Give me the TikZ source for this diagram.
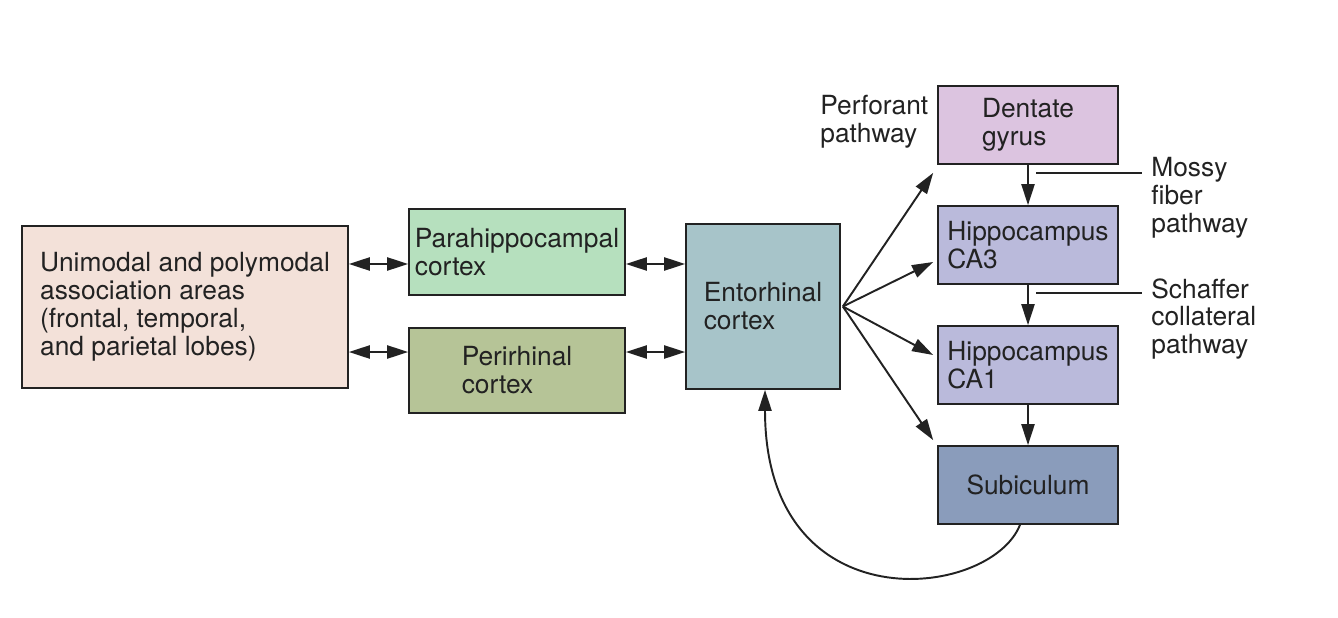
\documentclass[tikz,border=0pt]{standalone}
\usepackage{fontspec}
\setmainfont{TeX Gyre Heros}
\usepackage{xcolor}
\usepackage{tikz}
\usetikzlibrary{arrows.meta,positioning}

\definecolor{assocfill}{HTML}{F3E1D9}
\definecolor{parafill}{HTML}{B6E0BE}
\definecolor{perifill}{HTML}{B6C497}
\definecolor{entofill}{HTML}{A7C4C9}
\definecolor{dentfill}{HTML}{DCC4E0}
\definecolor{hippfill}{HTML}{BABADB}
\definecolor{subifill}{HTML}{8A9CBB}
\definecolor{ink}{HTML}{222222}

\tikzset{
  area/.style={draw=ink, line width=1pt, align=left, inner sep=0pt, text=ink,
    font=\fontsize{15}{15.9}\selectfont},
  tag/.style={align=left, inner sep=0pt, text=ink, font=\fontsize{15}{15.9}\selectfont},
  link/.style={line width=1.1pt, draw=ink, -{Triangle[length=12pt,width=7.5pt]}},
  twoway/.style={line width=1.1pt, draw=ink,
    {Triangle[length=12pt,width=7.5pt]}-{Triangle[length=12pt,width=7.5pt]}},
}

\begin{document}
\begin{tikzpicture}[x=0.02cm,y=-0.02cm]
\useasboundingbox (0,0) rectangle (1338,618);

%Cortical areas
\node[area, fill=assocfill, minimum width=6.52cm, minimum height=3.24cm] (assoc) at (185,307)
  {Unimodal and polymodal\\association areas\\(frontal, temporal,\\and parietal lobes)};
\node[area, fill=parafill, minimum width=4.32cm, minimum height=1.72cm] (para) at (517,252)
  {Parahippocampal\\cortex};
\node[area, fill=perifill, minimum width=4.32cm, minimum height=1.70cm] (peri) at (517,370.5)
  {Perirhinal\\cortex};
\node[area, fill=entofill, minimum width=3.08cm, minimum height=3.30cm] (ento) at (763,306.5)
  {Entorhinal\\cortex};

%Hippocampal formation
\node[area, fill=dentfill, minimum width=3.60cm, minimum height=1.56cm] (dentate) at (1028,125)
  {Dentate\\gyrus};
\node[area, fill=hippfill, minimum width=3.60cm, minimum height=1.56cm] (ca3) at (1028,245)
  {Hippocampus\\CA3};
\node[area, fill=hippfill, minimum width=3.60cm, minimum height=1.56cm] (ca1) at (1028,365)
  {Hippocampus\\CA1};
\node[area, fill=subifill, minimum width=3.60cm, minimum height=1.56cm] (subic) at (1028,485)
  {Subiculum};

%Pathway labels
\node[tag, anchor=west] (perforant) at (820,122) {Perforant\\pathway};
\node[tag, anchor=west] (mossy) at (1151,198) {Mossy\\fiber\\pathway};
\node[tag, anchor=west] (schaffer) at (1151,319) {Schaffer\\collateral\\pathway};

%Two-way links
\draw[twoway] ([yshift=-0.24cm]para.west -| assoc.east) -- ([yshift=-0.24cm]para.west);
\draw[twoway] ([yshift=0.37cm]peri.west -| assoc.east) -- ([yshift=0.37cm]peri.west);
\draw[twoway] ([yshift=-0.24cm]para.east) -- ([yshift=-0.24cm]para.east -| ento.west);
\draw[twoway] ([yshift=0.37cm]peri.east) -- ([yshift=0.37cm]peri.east -| ento.west);

%Fan out of entorhinal cortex
\draw[link] ([xshift=0.04cm]ento.east) -- ([shift={(-4,8)}]dentate.south west);
\draw[link] ([xshift=0.04cm]ento.east) -- ([shift={(-4,17)}]ca3.west);
\draw[link] ([xshift=0.04cm]ento.east) -- ([shift={(-4,-10)}]ca1.west);
\draw[link] ([xshift=0.04cm]ento.east) -- ([shift={(-4,-5)}]subic.north west);

%Trisynaptic chain
\draw[link] (dentate) -- (ca3);
\draw[link] (ca3) -- (ca1);
\draw[link] (ca1) -- (subic);

%Callouts
\draw[line width=1pt, draw=ink] ([shift={(8,8)}]dentate.south) -- ++(106,0);
\draw[line width=1pt, draw=ink] ([shift={(8,8)}]ca3.south) -- ++(106,0);

%Back projection
\draw[link] ([xshift=-0.16cm]subic.south) .. controls (990,600) and (765,625) .. ([xshift=0.04cm]ento.south);

\end{tikzpicture}
\end{document}
